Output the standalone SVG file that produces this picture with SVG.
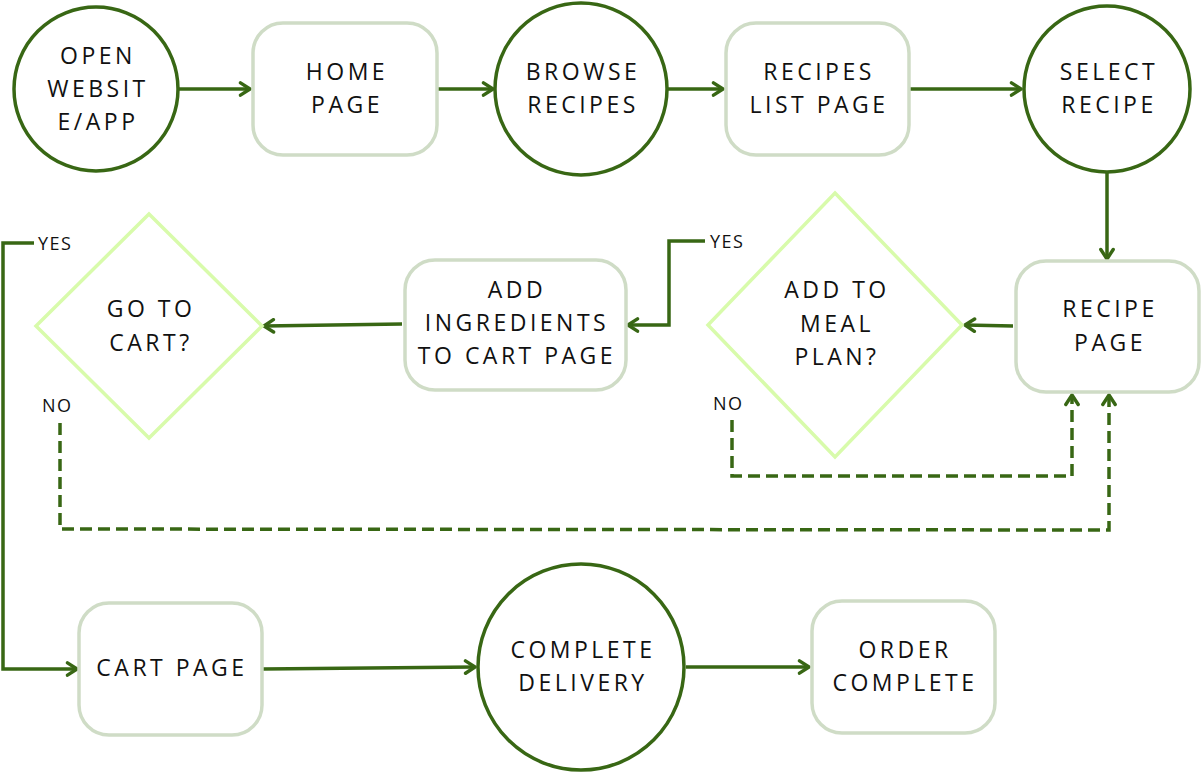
<svg xmlns="http://www.w3.org/2000/svg" width="1202" height="773" viewBox="0 0 1202 773">
<defs>
<style>
.c{fill:#fff;stroke:#386714;stroke-width:3.5}
.r{fill:#fff;stroke:#cfdcc6;stroke-width:3.5}
.d{fill:#fff;stroke:#d8fbab;stroke-width:3.5}
.t{font-family:"Open Sans","Liberation Sans",sans-serif;font-size:23px;font-weight:500;letter-spacing:3.5px;fill:#111;text-anchor:middle}
.l{font-family:"Open Sans","Liberation Sans",sans-serif;font-size:18px;letter-spacing:1.5px;fill:#111}
.e{fill:none;stroke:#386714;stroke-width:3.5}
.dash{stroke-dasharray:12 6}
</style>
<marker id="a" viewBox="0 0 14 16" refX="12" refY="8" markerWidth="14" markerHeight="16" markerUnits="userSpaceOnUse" orient="auto">
<path d="M2.5,1.8 L12,8 L2.5,14.2" fill="none" stroke="#386714" stroke-width="3.4" stroke-linecap="round" stroke-linejoin="round"/>
</marker>
</defs>
<rect width="1202" height="773" fill="#fff"/>
<g id="connectors">
<line class="e" x1="179" y1="89" x2="250" y2="89" marker-end="url(#a)"/>
<line class="e" x1="438" y1="89" x2="493" y2="89" marker-end="url(#a)"/>
<line class="e" x1="668" y1="89" x2="723" y2="89" marker-end="url(#a)"/>
<line class="e" x1="910" y1="89" x2="1021" y2="89" marker-end="url(#a)"/>
<line class="e" x1="1107" y1="170" x2="1107" y2="259" marker-end="url(#a)"/>
<line class="e" x1="1013" y1="326" x2="965" y2="325" marker-end="url(#a)"/>
<polyline class="e" points="705,241 669,241 669,325 628,325" marker-end="url(#a)"/>
<line class="e" x1="402" y1="324" x2="264" y2="326" marker-end="url(#a)"/>
<polyline class="e" points="34,243 3,243 3,669 77,669" marker-end="url(#a)"/>
<polyline class="e dash" points="732,420 732,476 1072,476 1072,395" marker-end="url(#a)"/>
<polyline class="e dash" points="60,423 60,529 1109,530 1109,395" marker-end="url(#a)"/>
<line class="e" x1="263" y1="669" x2="475" y2="667" marker-end="url(#a)"/>
<line class="e" x1="686" y1="667" x2="809" y2="667" marker-end="url(#a)"/>
<text class="l" x="710" y="248">YES</text>
<text class="l" x="38" y="250">YES</text>
<text class="l" x="713" y="410">NO</text>
<text class="l" x="42" y="412">NO</text>
</g>
<g id="open">
<circle class="c" cx="96" cy="89" r="82"/>
<text class="t" x="98" y="64">OPEN</text>
<text class="t" x="98" y="97">WEBSIT</text>
<text class="t" x="98" y="130">E/APP</text>
</g>
<g id="home">
<rect class="r" x="253" y="23" width="184" height="132" rx="30"/>
<text class="t" x="347" y="80">HOME</text>
<text class="t" x="347" y="113">PAGE</text>
</g>
<g id="browse">
<circle class="c" cx="581" cy="89" r="86"/>
<text class="t" x="583" y="80">BROWSE</text>
<text class="t" x="583" y="113">RECIPES</text>
</g>
<g id="list">
<rect class="r" x="726" y="23" width="183" height="132" rx="30"/>
<text class="t" x="819" y="80">RECIPES</text>
<text class="t" x="819" y="113">LIST PAGE</text>
</g>
<g id="select">
<circle class="c" cx="1107" cy="89" r="83"/>
<text class="t" x="1109" y="80">SELECT</text>
<text class="t" x="1109" y="113">RECIPE</text>
</g>
<g id="recipe">
<rect class="r" x="1016" y="261" width="183" height="131" rx="30"/>
<text class="t" x="1110" y="317">RECIPE</text>
<text class="t" x="1110" y="351">PAGE</text>
</g>
<g id="meal">
<polygon class="d" points="835,193 962,325 835,457 708,325"/>
<text class="t" x="837" y="298">ADD TO</text>
<text class="t" x="837" y="332">MEAL</text>
<text class="t" x="837" y="365">PLAN?</text>
</g>
<g id="ingredients">
<rect class="r" x="405" y="260" width="221" height="130" rx="30"/>
<text class="t" x="517" y="298">ADD</text>
<text class="t" x="517" y="331">INGREDIENTS</text>
<text class="t" x="517" y="364">TO CART PAGE</text>
</g>
<g id="gocart">
<polygon class="d" points="149,214 262,326 149,438 36,326"/>
<text class="t" x="151" y="317">GO TO</text>
<text class="t" x="151" y="351">CART?</text>
</g>
<g id="cart">
<rect class="r" x="79" y="603" width="183" height="132" rx="30"/>
<text class="t" x="172" y="676">CART PAGE</text>
</g>
<g id="delivery">
<circle class="c" cx="581" cy="667" r="103"/>
<text class="t" x="583" y="658">COMPLETE</text>
<text class="t" x="583" y="691">DELIVERY</text>
</g>
<g id="order">
<rect class="r" x="812" y="601" width="183" height="132" rx="30"/>
<text class="t" x="905" y="658">ORDER</text>
<text class="t" x="905" y="691">COMPLETE</text>
</g>
</svg>
